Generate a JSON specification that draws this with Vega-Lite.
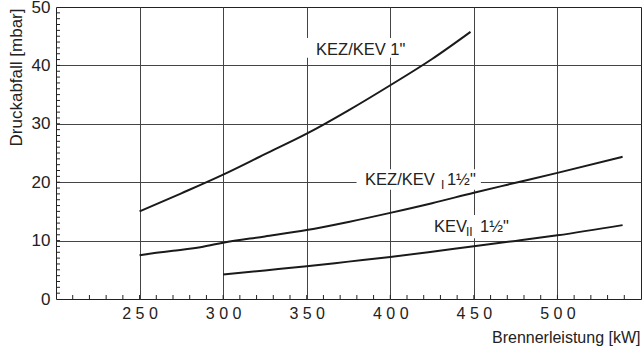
{
  "$schema": "https://vega.github.io/schema/vega-lite/v6.json",
  "width": 585,
  "height": 292,
  "autosize": {"type": "none"},
  "padding": {"left": 56, "top": 7, "right": 1, "bottom": 52},
  "background": "white",
  "config": {
    "view": {"stroke": "#222", "strokeWidth": 1},
    "font": "Liberation Sans",
    "text": {"font": "Liberation Sans"}
  },
  "datasets": {
    "curves": [
      {"series": "A", "kW": 250, "mbar": 15.0},
      {"series": "A", "kW": 275, "mbar": 18.1},
      {"series": "A", "kW": 300, "mbar": 21.3},
      {"series": "A", "kW": 325, "mbar": 24.8},
      {"series": "A", "kW": 350, "mbar": 28.3},
      {"series": "A", "kW": 375, "mbar": 32.3},
      {"series": "A", "kW": 400, "mbar": 36.6},
      {"series": "A", "kW": 425, "mbar": 41.1},
      {"series": "A", "kW": 448, "mbar": 45.75},
      {"series": "B", "kW": 250, "mbar": 7.5},
      {"series": "B", "kW": 260, "mbar": 7.9},
      {"series": "B", "kW": 270, "mbar": 8.25},
      {"series": "B", "kW": 288, "mbar": 8.95},
      {"series": "B", "kW": 300, "mbar": 9.65},
      {"series": "B", "kW": 325, "mbar": 10.7},
      {"series": "B", "kW": 350, "mbar": 11.8},
      {"series": "B", "kW": 375, "mbar": 13.2},
      {"series": "B", "kW": 400, "mbar": 14.75},
      {"series": "B", "kW": 425, "mbar": 16.4},
      {"series": "B", "kW": 450, "mbar": 18.2},
      {"series": "B", "kW": 475, "mbar": 19.9},
      {"series": "B", "kW": 500, "mbar": 21.6},
      {"series": "B", "kW": 539, "mbar": 24.35},
      {"series": "C", "kW": 300, "mbar": 4.2},
      {"series": "C", "kW": 325, "mbar": 4.9},
      {"series": "C", "kW": 350, "mbar": 5.6},
      {"series": "C", "kW": 375, "mbar": 6.4},
      {"series": "C", "kW": 400, "mbar": 7.2},
      {"series": "C", "kW": 425, "mbar": 8.1},
      {"series": "C", "kW": 450, "mbar": 9.05},
      {"series": "C", "kW": 475, "mbar": 9.95},
      {"series": "C", "kW": 500, "mbar": 10.9},
      {"series": "C", "kW": 539, "mbar": 12.65}
    ],
    "boxes": [
      {"kW": 347.8, "kW2": 411.8, "mbar": 41.3, "mbar2": 44.7},
      {"kW": 379.8, "kW2": 454.2, "mbar": 18.7, "mbar2": 22.2},
      {"kW": 423.8, "kW2": 472.8, "mbar": 10.4, "mbar2": 14.4}
    ],
    "labels": [
      {"kW": 355.6, "mbar": 42.6, "text": "KEZ/KEV 1\""},
      {"kW": 384.9, "mbar": 20.46, "text": "KEZ/KEV"},
      {"kW": 433.9, "mbar": 20.46, "text": "1½\""},
      {"kW": 426.2, "mbar": 12.3, "text": "KEV"},
      {"kW": 453.7, "mbar": 12.3, "text": "1½\""}
    ],
    "subs": [
      {"kW": 430.3, "mbar": 20.46, "text": "I"},
      {"kW": 445.3, "mbar": 12.3, "text": "II"}
    ],
    "yticks": [
      {"mbar": 1}, {"mbar": 2}, {"mbar": 3}, {"mbar": 4}, {"mbar": 5}, {"mbar": 6}, {"mbar": 7}, {"mbar": 8}, {"mbar": 9}, {"mbar": 10},
      {"mbar": 11}, {"mbar": 12}, {"mbar": 13}, {"mbar": 14}, {"mbar": 15}, {"mbar": 16}, {"mbar": 17}, {"mbar": 18}, {"mbar": 19}, {"mbar": 20},
      {"mbar": 21}, {"mbar": 22}, {"mbar": 23}, {"mbar": 24}, {"mbar": 25}, {"mbar": 26}, {"mbar": 27}, {"mbar": 28}, {"mbar": 29}, {"mbar": 30},
      {"mbar": 31}, {"mbar": 32}, {"mbar": 33}, {"mbar": 34}, {"mbar": 35}, {"mbar": 36}, {"mbar": 37}, {"mbar": 38}, {"mbar": 39}, {"mbar": 40},
      {"mbar": 41}, {"mbar": 42}, {"mbar": 43}, {"mbar": 44}, {"mbar": 45}, {"mbar": 46}, {"mbar": 47}, {"mbar": 48}, {"mbar": 49}
    ],
    "xticks": [
      {"kW": 210}, {"kW": 220}, {"kW": 230}, {"kW": 240}, {"kW": 250}, {"kW": 260}, {"kW": 270}, {"kW": 280}, {"kW": 290}, {"kW": 300},
      {"kW": 310}, {"kW": 320}, {"kW": 330}, {"kW": 340}, {"kW": 350}, {"kW": 360}, {"kW": 370}, {"kW": 380}, {"kW": 390}, {"kW": 400},
      {"kW": 410}, {"kW": 420}, {"kW": 430}, {"kW": 440}, {"kW": 450}, {"kW": 460}, {"kW": 470}, {"kW": 480}, {"kW": 490}, {"kW": 500},
      {"kW": 510}, {"kW": 520}, {"kW": 530}, {"kW": 540}
    ]
  },
  "layer": [
    {
      "data": {"name": "boxes"},
      "mark": {"type": "rect", "fill": "white", "stroke": null},
      "encoding": {
        "x": {
          "field": "kW",
          "type": "quantitative",
          "scale": {"domain": [200, 550], "nice": false, "zero": false},
          "axis": {
            "values": [250, 300, 350, 400, 450, 500],
            "grid": true,
            "ticks": false,
            "domain": false,
            "gridWidth": 1,
            "gridColor": "#444",
            "labelExpr": "join(split(datum.label, ''), ' ')",
            "labelFontSize": 16,
            "labelColor": "#222",
            "labelPadding": 6,
            "labelFlush": false,
            "labelOverlap": false,
            "title": "Brennerleistung  [kW]",
            "titleFontSize": 16,
            "titleFontWeight": "normal",
            "titleColor": "#222",
            "titleX": 584,
            "titleY": 38,
            "titleAlign": "right",
            "titleBaseline": "middle"
          }
        },
        "x2": {"field": "kW2"},
        "y": {
          "field": "mbar",
          "type": "quantitative",
          "scale": {"domain": [0, 50], "nice": false},
          "axis": {
            "values": [0, 5, 10, 15, 20, 25, 30, 35, 40, 45, 50],
            "grid": true,
            "ticks": false,
            "domain": false,
            "gridWidth": 1,
            "gridColor": {"condition": {"test": "datum.value > 0 && datum.value < 50", "value": "#444"}, "value": "rgba(0,0,0,0)"},
            "labelExpr": "datum.value % 10 === 0 ? datum.label : ''",
            "labelFontSize": 17,
            "labelColor": "#222",
            "labelPadding": 6,
            "labelFlush": false,
            "labelOverlap": false,
            "title": "Druckabfall [mbar]",
            "titleFontSize": 17,
            "titleFontWeight": "normal",
            "titleColor": "#222",
            "titleX": -40,
            "titleY": 1,
            "titleAngle": -90,
            "titleAlign": "right",
            "titleBaseline": "middle"
          }
        },
        "y2": {"field": "mbar2"}
      }
    },
    {
      "data": {"name": "curves"},
      "mark": {"type": "line", "color": "#1a1a1a", "strokeWidth": 2, "interpolate": "monotone"},
      "encoding": {
        "x": {"field": "kW", "type": "quantitative"},
        "y": {"field": "mbar", "type": "quantitative"},
        "detail": {"field": "series", "type": "nominal"}
      }
    },
    {
      "data": {"name": "labels"},
      "mark": {"type": "text", "align": "left", "baseline": "middle", "fontSize": 16.5, "color": "#222"},
      "encoding": {
        "x": {"field": "kW", "type": "quantitative"},
        "y": {"field": "mbar", "type": "quantitative"},
        "text": {"field": "text", "type": "nominal"}
      }
    },
    {
      "data": {"name": "subs"},
      "mark": {"type": "text", "align": "left", "baseline": "middle", "fontSize": 12, "dy": 5, "color": "#222"},
      "encoding": {
        "x": {"field": "kW", "type": "quantitative"},
        "y": {"field": "mbar", "type": "quantitative"},
        "text": {"field": "text", "type": "nominal"}
      }
    },
    {
      "data": {"name": "yticks"},
      "mark": {"type": "tick", "orient": "horizontal", "size": 8, "thickness": 1, "color": "#222", "opacity": 1, "clip": true},
      "encoding": {
        "x": {"datum": 200, "type": "quantitative"},
        "y": {"field": "mbar", "type": "quantitative"}
      }
    },
    {
      "data": {"name": "xticks"},
      "mark": {"type": "tick", "orient": "vertical", "size": 8, "thickness": 1, "color": "#222", "opacity": 1, "clip": true},
      "encoding": {
        "x": {"field": "kW", "type": "quantitative"},
        "y": {"datum": 0, "type": "quantitative"}
      }
    }
  ]
}
